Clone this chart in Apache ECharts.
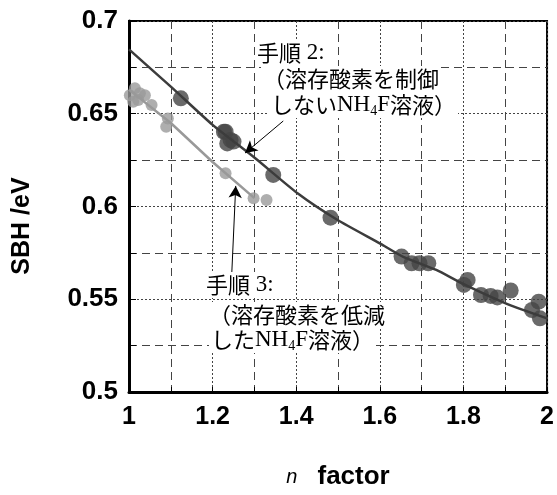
<!DOCTYPE html>
<html>
<head>
<meta charset="utf-8">
<script src="https://cdn.jsdelivr.net/npm/echarts@6/dist/echarts.min.js"></script>
<style>
  html, body { margin: 0; padding: 0; background: #fff; }
  #chart { width: 557px; height: 495px; }
</style>
</head>
<body>
<div id="chart"></div>
<script>
// 手順2 measured points [n, SBH]
var proc2Points = [
  [1.124, 0.6583], [1.227, 0.6403], [1.231, 0.6403], [1.243, 0.6358], [1.235, 0.634],
  [1.25, 0.635], [1.345, 0.617], [1.482, 0.594], [1.652, 0.573], [1.676, 0.5694],
  [1.695, 0.5694], [1.716, 0.5694], [1.81, 0.5604], [1.801, 0.5577], [1.842, 0.5523],
  [1.865, 0.5518], [1.881, 0.551], [1.913, 0.5547], [1.98, 0.5487], [1.964, 0.5442],
  [1.983, 0.5397]
];
// 手順2 fitted curve
var proc2Fit = [
  [1.0, 0.6847], [1.1, 0.6646], [1.2, 0.644], [1.302, 0.626], [1.404, 0.607],
  [1.499, 0.5927], [1.601, 0.58], [1.656, 0.5729], [1.735, 0.5658], [1.798, 0.5584],
  [1.901, 0.5478], [2.0, 0.5397]
];
// 手順3 measured points
var proc3Points = [
  [1.014, 0.6637], [1.002, 0.66], [1.026, 0.661], [1.022, 0.6574], [1.01, 0.6565],
  [1.038, 0.66], [1.054, 0.6547], [1.093, 0.6475], [1.089, 0.643], [1.231, 0.6179],
  [1.298, 0.6044], [1.329, 0.6035]
];
// 手順3 fitted line
var proc3Fit = [[1.0, 0.663], [1.1, 0.645], [1.2, 0.624], [1.3, 0.6045]];

var xTicks = [1, 1.2, 1.4, 1.6, 1.8, 2];
var yTicks = [0.5, 0.55, 0.6, 0.65, 0.7];

// annotation arrows (from label to curve), data coords
var arrow2 = [[1.369, 0.6461], [1.2776, 0.6288]];
var arrow3 = [[1.246, 0.5647], [1.2553, 0.6111]];

var chart = echarts.init(document.getElementById('chart'));

var dashGray = { color: '#444', width: 1, type: [8, 5] };
var dotGray = { color: '#444', width: 1, type: [2, 2] };

var noteRich = {
  j: { fontFamily: 'Noto Sans CJK JP', fontSize: 22, lineHeight: 26, color: '#111' },
  r: { fontFamily: 'Liberation Serif', fontSize: 23, lineHeight: 26, color: '#111' },
  sub: { fontFamily: 'Liberation Serif', fontSize: 14, lineHeight: 26, verticalAlign: 'bottom', color: '#111' }
};
function note(x, y, text) {
  return {
    type: 'text', x: x, y: y, z: 10,
    style: {
      text: text, rich: noteRich, align: 'left', verticalAlign: 'middle',
      backgroundColor: '#fff', padding: [0, 2]
    }
  };
}

function arrowLine(a) {
  return [{ coord: a[0], symbol: 'none' }, { coord: a[1], symbol: 'arrow' }];
}

var option = {
  animation: false,
  backgroundColor: '#fff',
  grid: {
    left: 129, right: 5, top: 21, bottom: 103,
    show: true, borderColor: '#000', borderWidth: 2
  },
  xAxis: {
    type: 'value',
    min: xTicks[0], max: xTicks[xTicks.length - 1], interval: 0.2,
    axisLine: { lineStyle: { color: '#000', width: 3 } },
    axisTick: { inside: true, length: 5, lineStyle: { color: '#000' } },
    minorTick: { show: true, splitNumber: 2, length: 5, lineStyle: { color: '#000' } },
    splitLine: { show: true, lineStyle: dotGray },
    minorSplitLine: { show: true, lineStyle: dashGray },
    axisLabel: { margin: 13, color: '#000', fontSize: 25, fontWeight: 'bold', fontFamily: 'Liberation Sans' },
    name: '{i|n}      {b|factor}',
    nameLocation: 'middle',
    nameGap: 72,
    nameTextStyle: {
      rich: {
        i: { fontFamily: 'Liberation Sans', fontStyle: 'italic', fontSize: 20, color: '#000' },
        b: { fontFamily: 'Liberation Sans', fontWeight: 'bold', fontSize: 26, color: '#000' }
      }
    }
  },
  yAxis: {
    type: 'value',
    min: yTicks[0], max: yTicks[yTicks.length - 1], interval: 0.05,
    axisLine: { show: true, lineStyle: { color: '#000', width: 3 } },
    axisTick: { show: true, inside: true, length: 7, lineStyle: { color: '#000' } },
    minorTick: { show: true, splitNumber: 2, length: 7, lineStyle: { color: '#000' } },
    splitLine: { show: true, lineStyle: dotGray },
    minorSplitLine: { show: true, lineStyle: dashGray },
    axisLabel: { margin: 11, color: '#000', fontSize: 26, fontWeight: 'bold', fontFamily: 'Liberation Sans' }
  },
  graphic: [
    {
      type: 'text', x: 22, y: 226, rotation: Math.PI / 2,
      style: { text: 'SBH /eV', font: 'bold 25px "Liberation Sans"', fill: '#000', align: 'center', verticalAlign: 'middle' }
    },
    note(255, 53, '{j|手順}{r| 2:}'),
    note(261, 79, '{j|（溶存酸素を制御}'),
    note(269, 105, '{j|しない}{r|NH}{sub|4}{r|F}{j|溶液）}'),
    note(204, 285, '{j|手順}{r| 3:}'),
    note(207, 315, '{j|（溶存酸素を低減}'),
    note(209, 340, '{j|した}{r|NH}{sub|4}{r|F}{j|溶液）}')
  ],
  series: [
    {
      name: '手順3', type: 'scatter', data: proc3Points,
      symbolSize: 12, itemStyle: { color: '#9a9a9a' }, z: 3
    },
    {
      name: '手順3 fit', type: 'line', data: proc3Fit, showSymbol: false,
      lineStyle: { color: '#999', width: 2.5 }, z: 4,
      markLine: {
        silent: true, symbolSize: [10, 12],
        lineStyle: { color: '#000', width: 1, type: 'solid' },
        label: { show: false },
        data: [arrowLine(arrow3)]
      }
    },
    {
      name: '手順2', type: 'scatter', data: proc2Points,
      symbolSize: 16, itemStyle: { color: '#454545' }, z: 3
    },
    {
      name: '手順2 fit', type: 'line', data: proc2Fit, showSymbol: false, smooth: 0.2,
      lineStyle: { color: '#3c3c3c', width: 2.5 }, z: 4,
      markLine: {
        silent: true, symbolSize: [10, 12],
        lineStyle: { color: '#000', width: 1, type: 'solid' },
        label: { show: false },
        data: [arrowLine(arrow2)]
      }
    }
  ]
};

chart.setOption(option);
</script>
</body>
</html>
